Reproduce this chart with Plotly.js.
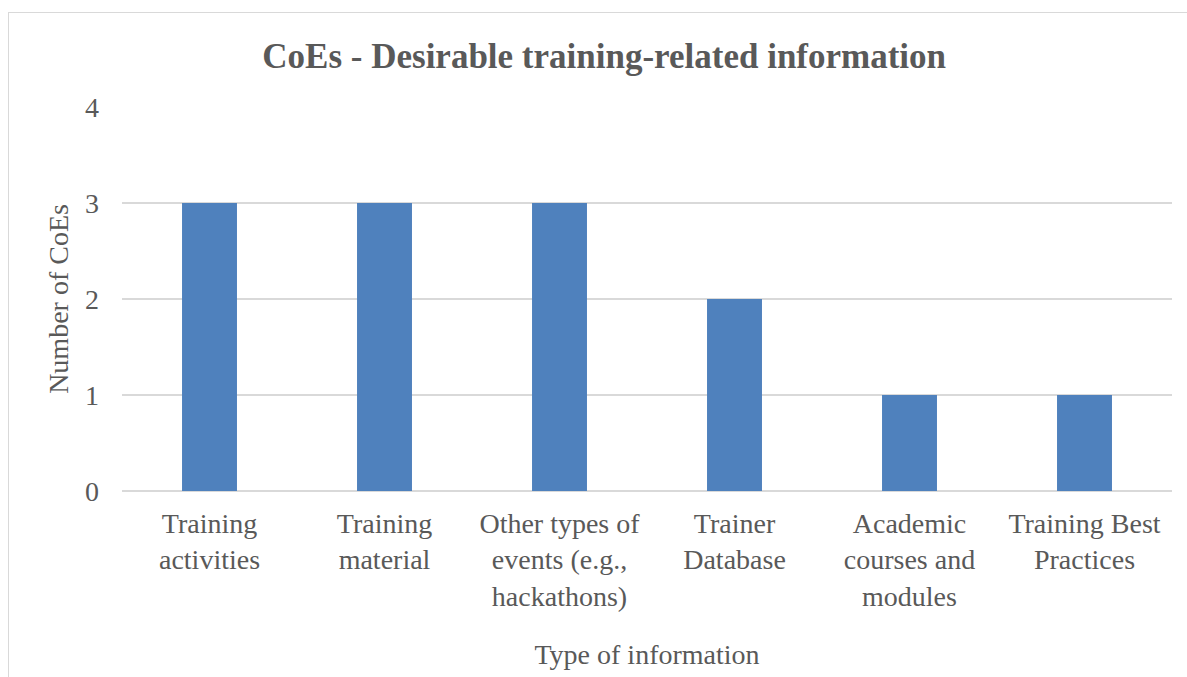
<!DOCTYPE html>
<html>
<head>
<meta charset="utf-8">
<script src="https://cdn.plot.ly/plotly-3.0.1.min.js"></script>
<style>
html, body { margin: 0; padding: 0; background: #ffffff; overflow: hidden; }
#wrap { position: relative; width: 1187px; height: 677px; }
#chart { position: absolute; left: 0; top: 0; width: 1187px; height: 677px; }
#frame { position: absolute; left: 8px; top: 12px; width: 1200px; height: 700px; border: 1px solid #d9d9d9; pointer-events: none; }
</style>
</head>
<body>
<div id="wrap">
<div id="chart"></div>
<div id="frame"></div>
</div>
<script>
const categories = [
  "Training<br>activities",
  "Training<br>material",
  "Other types of<br>events (e.g.,<br>hackathons)",
  "Trainer<br>Database",
  "Academic<br>courses and<br>modules",
  "Training Best<br>Practices"
];
const counts = [3, 3, 3, 2, 1, 1];
const yTicks = [0, 1, 2, 3, 4];

const serif = "'Liberation Serif', 'Times New Roman', serif";
const grey = "#595959";

const trace = {
  type: "bar",
  x: categories,
  y: counts,
  marker: { color: "#4f81bd" },
  hoverinfo: "x+y"
};

const layout = {
  width: 1187,
  height: 677,
  paper_bgcolor: "rgba(0,0,0,0)",
  plot_bgcolor: "#ffffff",
  margin: { l: 122, r: 15, t: 107, b: 186 },
  bargap: 0.686,
  showlegend: false,
  title: {
    text: "<b>CoEs - Desirable training-related information</b>",
    font: { family: serif, size: 35, color: grey },
    x: 0.509, xanchor: "center", xref: "container",
    y: 0.918, yanchor: "middle", yref: "container"
  },
  xaxis: {
    type: "category",
    showgrid: false,
    showline: false,
    zeroline: false,
    ticks: "",
    ticklabelstandoff: 13,
    tickfont: { family: serif, size: 28, color: grey },
    title: {
      text: "Type of information",
      font: { family: serif, size: 28, color: grey },
      standoff: 33
    }
  },
  yaxis: {
    range: [0, 4],
    tickvals: yTicks,
    showgrid: true,
    gridcolor: "#d9d9d9",
    gridwidth: 1.3,
    zeroline: true,
    zerolinecolor: "#d9d9d9",
    zerolinewidth: 1.3,
    showline: false,
    ticks: "",
    ticklabelstandoff: 22,
    tickfont: { family: serif, size: 28, color: grey },
    title: {
      text: "Number of CoEs",
      font: { family: serif, size: 28, color: grey },
      standoff: 8
    }
  }
};

Plotly.newPlot("chart", [trace], layout, { displayModeBar: false, staticPlot: true });
</script>
</body>
</html>
